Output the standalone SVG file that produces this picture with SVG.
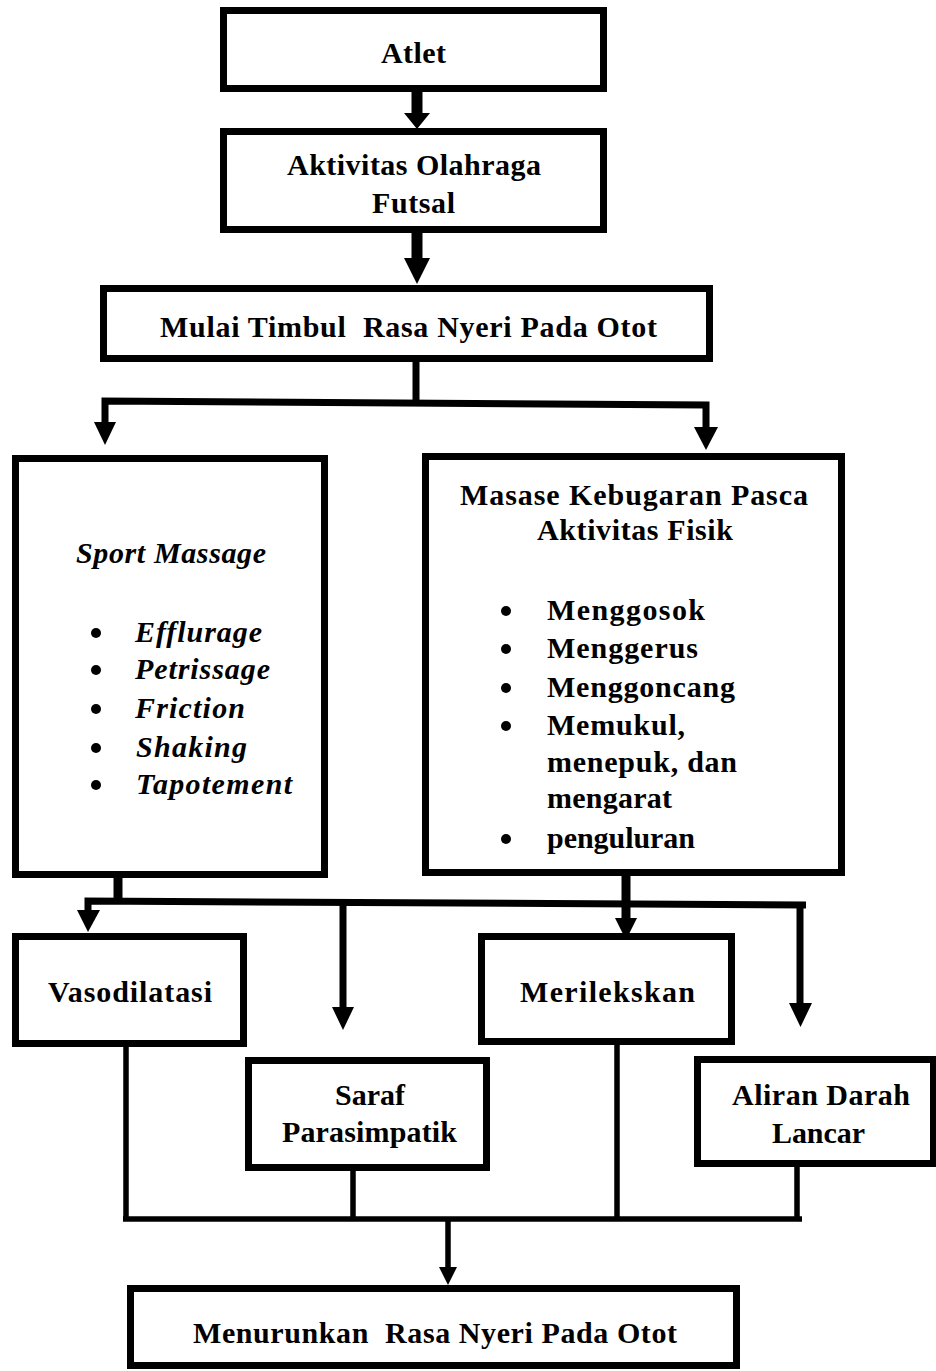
<svg xmlns="http://www.w3.org/2000/svg" width="936" height="1371" viewBox="0 0 936 1371">
<style>
.box{fill:#fff;stroke:#000;stroke-width:7}
.t{font-family:"Liberation Serif","Times New Roman",serif;font-weight:bold;font-size:30px;fill:#000;white-space:pre}
.c{text-anchor:middle}
.i{font-style:italic}
.dot{fill:#000}
.ln{fill:none;stroke:#000;stroke-linecap:butt;stroke-linejoin:miter}
.ah{fill:#000}
</style>
<rect width="936" height="1371" fill="#fff"/>
<g id="connectors">
<path class="ln" stroke-width="11" d="M417,92 L417,114"/>
<polygon class="ah" points="404,113 430,113 417,129"/>
<path class="ln" stroke-width="11" d="M417,233 L417,259"/>
<polygon class="ah" points="404,258 430,258 417,284"/>
<path class="ln" stroke-width="7" d="M416,362 L416,402"/>
<path class="ln" stroke-width="7" d="M105,423 L105,401 L706,405 L706,428"/>
<polygon class="ah" points="94,422 116,422 105,445"/>
<polygon class="ah" points="694,427 718,427 706,450"/>
<path class="ln" stroke-width="9" d="M118,878 L118,902"/>
<path class="ln" stroke-width="7" d="M88,911 L88,901 L806,905"/>
<polygon class="ah" points="77,910 100,910 88,932"/>
<path class="ln" stroke-width="7" d="M343,903 L343,1008"/>
<polygon class="ah" points="332,1007 354,1007 343,1030"/>
<path class="ln" stroke-width="9" d="M626,876 L626,919"/>
<polygon class="ah" points="615,918 637,918 626,940"/>
<path class="ln" stroke-width="7" d="M800,905 L800,1004"/>
<polygon class="ah" points="789,1003 812,1003 800.5,1027"/>
<path class="ln" stroke-width="5.5" d="M126,1047 L126,1219 M353,1171 L353,1219 M617,1045 L617,1219 M797,1167 L797,1219"/>
<path class="ln" stroke-width="5.5" d="M123,1219 L802,1219"/>
<path class="ln" stroke-width="5.5" d="M448,1219 L448,1268"/>
<polygon class="ah" points="439,1267 457,1267 448,1285"/>
</g>
<g id="atlet">
<rect class="box" x="223.5" y="10.5" width="380" height="78"/>
<text class="t c" x="413.5" y="63" textLength="65" lengthAdjust="spacing">Atlet</text>
</g>
<g id="aktivitas">
<rect class="box" x="223.5" y="131.5" width="380" height="98"/>
<text class="t c" x="414" y="175" textLength="254" lengthAdjust="spacing">Aktivitas Olahraga</text>
<text class="t c" x="413.5" y="213" textLength="83" lengthAdjust="spacing">Futsal</text>
</g>
<g id="mulai">
<rect class="box" x="103.5" y="288.5" width="606" height="70"/>
<text class="t c" x="408.5" y="337" textLength="497" lengthAdjust="spacing">Mulai Timbul  Rasa Nyeri Pada Otot</text>
</g>
<g id="sport-massage">
<rect class="box" x="15.5" y="458.5" width="309" height="416"/>
<text class="t c i" x="171" y="563" textLength="190" lengthAdjust="spacing">Sport Massage</text>
<circle class="dot" cx="96" cy="633" r="5"/>
<circle class="dot" cx="96" cy="670" r="5"/>
<circle class="dot" cx="96" cy="709" r="5"/>
<circle class="dot" cx="96" cy="748" r="5"/>
<circle class="dot" cx="96" cy="785" r="5"/>
<text class="t i" x="135" y="642" textLength="127" lengthAdjust="spacing">Efflurage</text>
<text class="t i" x="135" y="679" textLength="135" lengthAdjust="spacing">Petrissage</text>
<text class="t i" x="135" y="718" textLength="110" lengthAdjust="spacing">Friction</text>
<text class="t i" x="136" y="757" textLength="111" lengthAdjust="spacing">Shaking</text>
<text class="t i" x="136" y="794" textLength="156" lengthAdjust="spacing">Tapotement</text>
</g>
<g id="masase">
<rect class="box" x="425.5" y="456.5" width="416" height="416"/>
<text class="t c" x="634" y="505" textLength="348" lengthAdjust="spacing">Masase Kebugaran Pasca</text>
<text class="t c" x="635" y="540" textLength="196" lengthAdjust="spacing">Aktivitas Fisik</text>
<circle class="dot" cx="506" cy="611" r="5"/>
<circle class="dot" cx="506" cy="649" r="5"/>
<circle class="dot" cx="506" cy="688" r="5"/>
<circle class="dot" cx="506" cy="726" r="5"/>
<circle class="dot" cx="506" cy="839" r="5"/>
<text class="t" x="547" y="620" textLength="158" lengthAdjust="spacing">Menggosok</text>
<text class="t" x="547" y="658" textLength="151" lengthAdjust="spacing">Menggerus</text>
<text class="t" x="547" y="697" textLength="188" lengthAdjust="spacing">Menggoncang</text>
<text class="t" x="547" y="735" textLength="138" lengthAdjust="spacing">Memukul,</text>
<text class="t" x="547" y="772" textLength="190" lengthAdjust="spacing">menepuk, dan</text>
<text class="t" x="547" y="808" textLength="125" lengthAdjust="spacing">mengarat</text>
<text class="t" x="547" y="848" textLength="148" lengthAdjust="spacing">penguluran</text>
</g>
<g id="vasodilatasi">
<rect class="box" x="15.5" y="936.5" width="228" height="107"/>
<text class="t c" x="130" y="1002" textLength="164" lengthAdjust="spacing">Vasodilatasi</text>
</g>
<g id="merilekskan">
<rect class="box" x="481.5" y="936.5" width="250" height="105"/>
<text class="t c" x="607.5" y="1002" textLength="175" lengthAdjust="spacing">Merilekskan</text>
</g>
<g id="saraf">
<rect class="box" x="248.5" y="1060.5" width="238" height="107"/>
<text class="t c" x="370" y="1105" textLength="70" lengthAdjust="spacing">Saraf</text>
<text class="t c" x="369.5" y="1142" textLength="175" lengthAdjust="spacing">Parasimpatik</text>
</g>
<g id="aliran">
<rect class="box" x="697.5" y="1059.5" width="236" height="104"/>
<text class="t c" x="821" y="1105" textLength="178" lengthAdjust="spacing">Aliran Darah</text>
<text class="t c" x="818.5" y="1143" textLength="93" lengthAdjust="spacing">Lancar</text>
</g>
<g id="menurunkan">
<rect class="box" x="130.5" y="1288.5" width="606" height="77"/>
<text class="t c" x="435" y="1343" textLength="484" lengthAdjust="spacing">Menurunkan  Rasa Nyeri Pada Otot</text>
</g>
</svg>
